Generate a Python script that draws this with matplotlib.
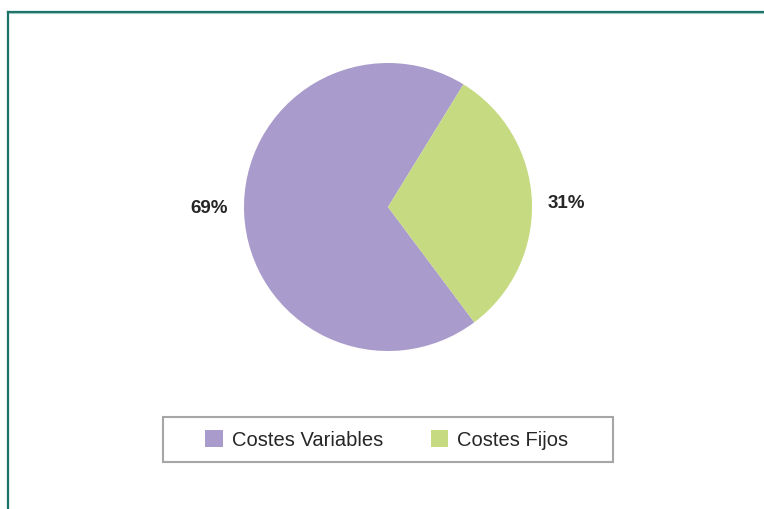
import matplotlib
matplotlib.use("Agg")
import matplotlib.pyplot as plt
from matplotlib.patches import Rectangle
from matplotlib.lines import Line2D

categories = ["Costes Variables", "Costes Fijos"]
values = [69, 31]
colors = ["#A99BCB", "#C6DA82"]

W, H = 764, 509
plt.rcParams['font.family'] = ['Liberation Sans', 'DejaVu Sans']
fig = plt.figure(figsize=(W / 100, H / 100), dpi=100)
ax = fig.add_axes([0, 0, 1, 1])

wedges, texts, autotexts = ax.pie(
    values, colors=colors, startangle=58.4, counterclock=True,
    center=(388, H - 207), radius=144, autopct='%1.0f%%', pctdistance=1.24,
    textprops=dict(fontsize=13.5, fontweight='bold', color='#262626'),
    wedgeprops=dict(linewidth=0), frame=True)
ax.set_xlim(0, W)
ax.set_ylim(0, H)
ax.set_aspect('equal')
ax.axis('off')

# nudge percentage labels to sit level as in the reference
x0, y0 = autotexts[0].get_position()
autotexts[0].set_position((x0, y0 + 7))
x1, y1 = autotexts[1].get_position()
autotexts[1].set_position((x1, y1 - 5))

# outer frame (top and left edges visible)
fig.add_artist(Line2D([7.5 / W, 7.5 / W], [0, 1 - 11.5 / H], transform=fig.transFigure,
                      color='#1d7268', lw=1.6))
fig.add_artist(Line2D([7.5 / W, 1], [1 - 11.5 / H, 1 - 11.5 / H], transform=fig.transFigure,
                      color='#1d7268', lw=1.6))
fig.add_artist(Line2D([9 / W, 1], [1 - 13 / H, 1 - 13 / H], transform=fig.transFigure,
                      color='#9cc9c1', lw=0.8))

# legend box
fig.add_artist(Rectangle((163 / W, 1 - 462 / H), 450 / W, 45 / H, transform=fig.transFigure,
                         facecolor='white', edgecolor='#a6a6a6', lw=1.5))
handles = [Rectangle((0, 0), 1, 1, facecolor=c, edgecolor='none') for c in colors]
leg = fig.legend(handles, categories, loc='center', bbox_to_anchor=(387 / W, 1 - 440 / H),
                 ncol=2, frameon=False, fontsize=14.5, handlelength=0.85, handleheight=0.85,
                 handletextpad=0.45, columnspacing=2.4, labelcolor='#262626')

fig.savefig("out.png", dpi=100)
